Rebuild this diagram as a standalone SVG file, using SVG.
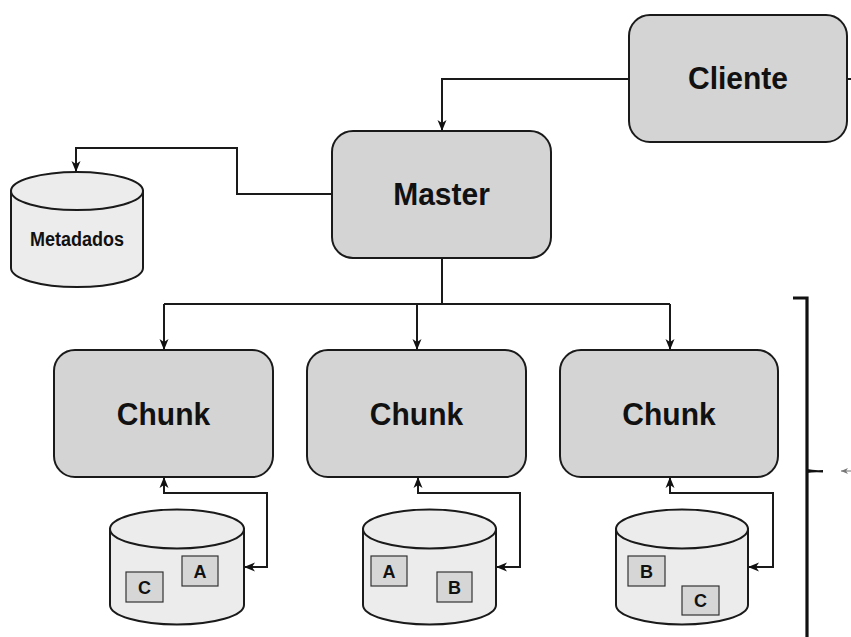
<svg xmlns="http://www.w3.org/2000/svg" width="851" height="637" viewBox="0 0 851 637">
  <defs>
    <marker id="arrow" markerUnits="userSpaceOnUse" markerWidth="12" markerHeight="10" refX="10" refY="4.5" orient="auto-start-reverse" viewBox="0 0 12 9">
      <path d="M0,0 L11,4.5 L0,9 L3,4.5 Z" fill="#111"/>
    </marker>
    <marker id="arrowSmall" markerUnits="userSpaceOnUse" markerWidth="8" markerHeight="6" refX="7" refY="3" orient="auto" viewBox="0 0 8 6">
      <path d="M0,0 L7,3 L0,6 L2,3 Z" fill="#777"/>
    </marker>
  </defs>
  <style>
    .box { fill: #d4d4d4; stroke: #1a1a1a; stroke-width: 2; }
    .cyl { fill: #ececec; stroke: #1a1a1a; stroke-width: 2; }
    .blk { fill: #d6d6d6; stroke: #333; stroke-width: 1.2; }
    .big { font-family: "Liberation Sans", Arial, sans-serif; font-weight: bold; font-size: 30px; fill: #111; text-anchor: middle; }
    .mid { font-family: "Liberation Sans", Arial, sans-serif; font-weight: bold; font-size: 18px; fill: #111; text-anchor: middle; }
    .lbl { font-family: "Liberation Sans", Arial, sans-serif; font-weight: bold; font-size: 18px; fill: #111; text-anchor: middle; }
    .conn { fill: none; stroke: #1a1a1a; stroke-width: 2; }
  </style>
  <rect width="851" height="637" fill="#ffffff"/>

  <!-- connectors -->
  <g id="connectors">
    <path class="conn" d="M629,79 H442 V130" marker-end="url(#arrow)"/>
    <path class="conn" d="M848,79 H851"/>
    <path class="conn" d="M332,194 H237 V148 H76 V171" marker-end="url(#arrow)"/>
    <path class="conn" d="M442,258 V304"/>
    <path class="conn" d="M164,304 H670"/>
    <path class="conn" d="M164,304 V349" marker-end="url(#arrow)"/>
    <path class="conn" d="M417,304 V349" marker-end="url(#arrow)"/>
    <path class="conn" d="M670,304 V349" marker-end="url(#arrow)"/>
    <path class="conn" d="M164,478 V493 H267 V567 H245" marker-start="url(#arrow)" marker-end="url(#arrow)"/>
    <path class="conn" d="M418,478 V493 H520 V567 H497" marker-start="url(#arrow)" marker-end="url(#arrow)"/>
    <path class="conn" d="M670,478 V493 H773 V567 H749" marker-start="url(#arrow)" marker-end="url(#arrow)"/>
    <!-- brace on the right -->
    <path d="M793,298 H807 V637" fill="none" stroke="#111" stroke-width="3.2"/>
    <path d="M807,469 Q813,470.5 823,470 L823,472.5 Q813,472 807,473 Z" fill="#111"/>
    <path d="M851,471 H841" fill="none" stroke="#777" stroke-width="1" marker-end="url(#arrowSmall)"/>
  </g>

  <g id="cliente">
    <rect class="box" x="629" y="15" width="218" height="127" rx="21"/>
    <text class="big" transform="translate(738,89) scale(1,1.06)">Cliente</text>
  </g>

  <g id="master">
    <rect class="box" x="332" y="131" width="219" height="127" rx="21"/>
    <text class="big" transform="translate(441.5,205) scale(1,1.06)">Master</text>
  </g>

  <g id="metadados">
    <path class="cyl" d="M11,191 V268 A66,19 0 0 0 143,268 V191 Z"/>
    <ellipse class="cyl" cx="77" cy="191" rx="66" ry="19"/>
    <text class="mid" transform="translate(77,246) scale(1,1.12)">Metadados</text>
  </g>

  <g id="chunk1">
    <rect class="box" x="54" y="350" width="219" height="127" rx="21"/>
    <text class="big" transform="translate(163.5,425) scale(1,1.06)">Chunk</text>
  </g>
  <g id="chunk2">
    <rect class="box" x="307" y="350" width="219" height="127" rx="21"/>
    <text class="big" transform="translate(416.5,425) scale(1,1.06)">Chunk</text>
  </g>
  <g id="chunk3">
    <rect class="box" x="560" y="350" width="218" height="127" rx="21"/>
    <text class="big" transform="translate(669,425) scale(1,1.06)">Chunk</text>
  </g>

  <g id="disk1">
    <path class="cyl" d="M110,529 V605 A67,19.5 0 0 0 244,605 V529 Z"/>
    <ellipse class="cyl" cx="177" cy="529" rx="67" ry="19.5"/>
    <rect class="blk" x="126" y="572" width="37" height="30"/>
    <text class="lbl" x="144.5" y="593.5">C</text>
    <rect class="blk" x="182" y="556" width="36" height="30"/>
    <text class="lbl" x="200" y="577.5">A</text>
  </g>

  <g id="disk2">
    <path class="cyl" d="M363,529 V605 A66.5,19.5 0 0 0 496,605 V529 Z"/>
    <ellipse class="cyl" cx="429.5" cy="529" rx="66.5" ry="19.5"/>
    <rect class="blk" x="371" y="556" width="36" height="30"/>
    <text class="lbl" x="389" y="577.5">A</text>
    <rect class="blk" x="437" y="572" width="35" height="30"/>
    <text class="lbl" x="454.5" y="593.5">B</text>
  </g>

  <g id="disk3">
    <path class="cyl" d="M616,529 V605 A66,19.5 0 0 0 748,605 V529 Z"/>
    <ellipse class="cyl" cx="682" cy="529" rx="66" ry="19.5"/>
    <rect class="blk" x="628" y="556" width="37" height="30"/>
    <text class="lbl" x="646.5" y="577.5">B</text>
    <rect class="blk" x="682" y="586" width="37" height="29"/>
    <text class="lbl" x="700.5" y="607">C</text>
  </g>
</svg>
